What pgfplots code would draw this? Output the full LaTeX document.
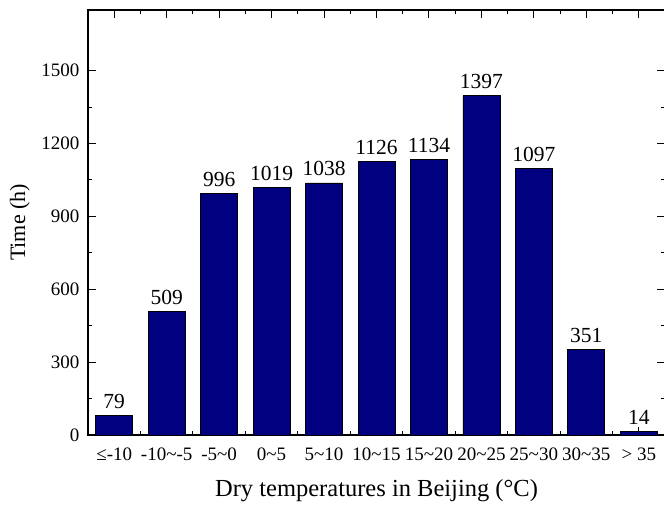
\documentclass[border=0pt]{standalone}
\usepackage{fontspec}
\setmainfont{Liberation Serif}
\usepackage{pgfplots}
\pgfplotsset{compat=1.18}
\definecolor{barnavy}{RGB}{0,0,128}
\begin{document}
\begin{tikzpicture}
\begin{axis}[
  scale only axis,
  width=577pt, height=425pt,
  xmin=-0.5, xmax=10.5, ymin=0, ymax=1750,
  ybar, bar width=37pt, bar shift=0pt,
  xtick={0,...,10},
  xticklabels={{≤-10},{-10\textasciitilde-5},{-5\textasciitilde0},{0\textasciitilde5},{5\textasciitilde10},{10\textasciitilde15},{15\textasciitilde20},{20\textasciitilde25},{25\textasciitilde30},{30\textasciitilde35},{>\ 35}},
  minor x tick num=1,
  ytick={0,300,600,900,1200,1500},
  minor y tick num=1,
  tick align=inside,
  xtick pos=both, ytick pos=both,
  xticklabel pos=lower, yticklabel pos=left,
  major tick length=8pt, minor tick length=4pt,
  every tick/.style={black, line width=1pt},
  axis line style={line width=1.3pt},
  /pgf/number format/assume math mode=true,
  /pgf/number format/1000 sep={},
  tick label style={font=\fontsize{19}{19}\selectfont},
  xticklabel style={yshift=-9pt},
  yticklabel style={xshift=-5pt},
  xlabel={Dry temperatures in Beijing (°C)},
  ylabel={Time (h)},
  xlabel style={font=\fontsize{24.5}{24.5}\selectfont, at={(axis description cs:0.5,-0.131)}, anchor=center},
  ylabel style={font=\fontsize{22}{22}\selectfont, at={(axis description cs:-0.118,0.5)}, anchor=center},
  nodes near coords,
  every node near coord/.append style={font=\fontsize{21.5}{21.5}\selectfont, black, yshift=3pt},
  scaled y ticks=false,
]
\addplot[fill=barnavy, draw=black, line width=0.8pt] coordinates {
 (0,79) (1,509) (2,996) (3,1019) (4,1038) (5,1126) (6,1134) (7,1397) (8,1097) (9,351) (10,14)
};
\end{axis}
\pgfresetboundingbox
\path ([shift={(-88pt,-70pt)}]current axis.south west) rectangle ([shift={(-1pt,10pt)}]current axis.north east);
\end{tikzpicture}
\end{document}
